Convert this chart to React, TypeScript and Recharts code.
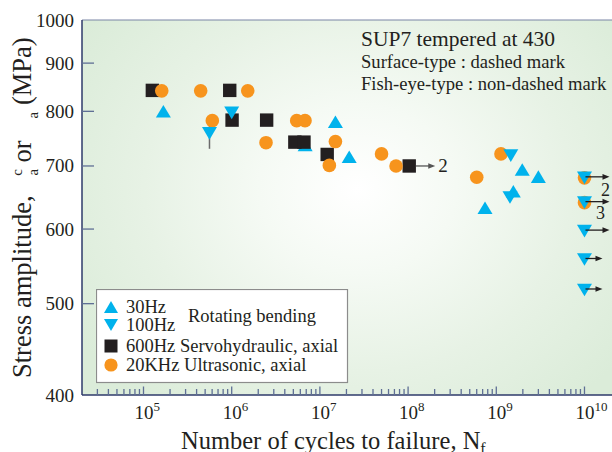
import React from 'react';
import { ScatterChart, Scatter, XAxis, YAxis, ReferenceLine, Legend, ErrorBar } from 'recharts';

// cycles to failure (N) vs stress amplitude (MPa)
const rotating30Hz = [
  { n: 1.68e5, s: 800 },
  { n: 6.8e6, s: 737 },
  { n: 1.5e7, s: 780 },
  { n: 2.15e7, s: 716 },
  { n: 7.45e8, s: 632 },
  { n: 1.56e9, s: 658 },
  { n: 1.97e9, s: 694 },
  { n: 3.0e9, s: 682 },
];

const ultrasonic20kHz = [
  { n: 1.61e5, s: 841 },
  { n: 4.45e5, s: 841 },
  { n: 1.52e6, s: 841 },
  { n: 6.03e5, s: 782 },
  { n: 2.45e6, s: 741 },
  { n: 5.46e6, s: 782 },
  { n: 6.78e6, s: 782 },
  { n: 1.28e7, s: 701 },
  { n: 1.5e7, s: 743 },
  { n: 5.0e7, s: 721 },
  { n: 7.3e7, s: 700 },
  { n: 6.0e8, s: 681 },
  { n: 1.13e9, s: 721 },
  { n: 1e10, s: 680 },
  { n: 1e10, s: 640 },
];

const servo600Hz = [
  { n: 1.26e5, s: 842 },
  { n: 9.5e5, s: 842 },
  { n: 1.01e6, s: 783 },
  { n: 2.49e6, s: 783 },
  { n: 5.2e6, s: 742 },
  { n: 6.6e6, s: 742 },
  { n: 1.21e7, s: 720 },
  { n: 1.03e8, s: 700, runout: '2' },
];

const rotating100Hz = [
  { n: 5.6e5, s: 758 },
  { n: 1.0e6, s: 797 },
  { n: 1.43e9, s: 648 },
  { n: 1.46e9, s: 718 },
  { n: 1e10, s: 680, runout: '2' },
  { n: 1e10, s: 640, runout: '3' },
  { n: 1e10, s: 597, runout: '' },
  { n: 1e10, s: 557, runout: '' },
  { n: 1e10, s: 517, runout: '' },
];

// scatter band on the 100Hz point at 5.6e5
const scatterBand = [{ n: 5.6e5, s: 758, err: [28, 23] }];

const xDecades = [1e5, 1e6, 1e7, 1e8, 1e9, 1e10];
const xTicks = [3e4, 4e4, 5e4, 6e4, 7e4, 8e4, 9e4,
  ...xDecades.flatMap((d) => [d, 2 * d, 3 * d, 4 * d, 5 * d, 6 * d, 7 * d, 8 * d, 9 * d])].filter((v) => v < 1.9e10);
const yTicks = [400, 500, 600, 700, 800, 900, 1000];

const FONT = 'Liberation Serif';
const CYAN = '#00b2ec';
const ORANGE = '#f7941d';
const BLACK = '#231f20';
const AXIS = '#2e3a6a';
const TICK = '#5f6f95';

const XTick = (props: any) => {
  const { x, y, payload } = props;
  const lg = Math.log10(payload.value);
  const exp = Math.round(lg);
  const major = Math.abs(lg - exp) < 1e-6;
  return (
    <g>
      <line x1={x} x2={x} y1={y} y2={y - (major ? 8.5 : 6)} stroke={TICK} strokeWidth={1.3} />
      {major && (
        <text x={x - 9} y={y + 24} fontFamily={FONT} fontSize={19} fill={BLACK}>
          10<tspan dy={-8} fontSize={13}>{exp}</tspan>
        </text>
      )}
    </g>
  );
};

const YTick = (props: any) => {
  const { x, y, payload } = props;
  const v = payload.value;
  return (
    <g>
      {v > 400 && v < 1000 && <line x1={x} x2={x + 12} y1={y} y2={y} stroke={TICK} strokeWidth={1.3} />}
      <text x={x - 8} y={y + 6.5} textAnchor="end" fontFamily={FONT} fontSize={19} fill={BLACK}>{v}</text>
    </g>
  );
};

const Arrow = ({ x1, x2, y, color }: any) => (
  <g>
    <line x1={x1} x2={x2 - 4} y1={y} y2={y} stroke={color} strokeWidth={1.3} />
    <path d={`M${x2},${y} L${x2 - 7},${y - 2.8} L${x2 - 7},${y + 2.8} Z`} fill={color} />
  </g>
);

const triUpPath = (cx: number, cy: number, w = 7.5, h = 6.3) =>
  `M${cx},${cy - h} L${cx + w},${cy + h} L${cx - w},${cy + h} Z`;
const triDownPath = (cx: number, cy: number, w = 7.5, h = 6.3) =>
  `M${cx - w},${cy - h} L${cx + w},${cy - h} L${cx},${cy + h} Z`;

const TriUpShape = (props: any) => <path d={triUpPath(props.cx, props.cy)} fill={CYAN} />;

const TriDownShape = (props: any) => {
  const { cx, cy, payload } = props;
  const hasArrow = payload && payload.runout !== undefined;
  const long = payload && payload.s > 580;
  return (
    <g>
      <path d={triDownPath(cx, cy)} fill={CYAN} />
      {hasArrow && <Arrow x1={cx + 1} x2={cx + (long ? 25 : 18)} y={cy - 1} color={BLACK} />}
      {payload && payload.runout === '2' && (
        <text x={cx + 21} y={cy + 18} textAnchor="middle" fontFamily={FONT} fontSize={18} fill={BLACK}>2</text>
      )}
      {payload && payload.runout === '3' && (
        <text x={cx + 16} y={cy + 16} textAnchor="middle" fontFamily={FONT} fontSize={18} fill={BLACK}>3</text>
      )}
    </g>
  );
};

const SquareShape = (props: any) => {
  const { cx, cy, payload } = props;
  return (
    <g>
      <rect x={cx - 6.7} y={cy - 6.7} width={13.4} height={13.4} fill={BLACK} />
      {payload && payload.runout && (
        <g>
          <Arrow x1={cx + 6.7} x2={cx + 26} y={cy} color="#555" />
          <text x={cx + 29} y={cy + 6} fontFamily={FONT} fontSize={19} fill={BLACK}>{payload.runout}</text>
        </g>
      )}
    </g>
  );
};

const CircleShape = (props: any) => <circle cx={props.cx} cy={props.cy} r={6.8} fill={ORANGE} />;
const NoShape = () => <g />;

const LegendBox = () => (
  <svg width={253} height={95} style={{ display: 'block' }}>
    <rect x={0.5} y={0.5} width={251} height={93} fill="#fff" stroke="#8c8c8c" strokeWidth={1.2} />
    <path d={triUpPath(15, 18, 7, 6)} fill={CYAN} />
    <path d={triDownPath(15, 36, 7, 6)} fill={CYAN} />
    <rect x={8.5} y={50.5} width={13} height={13} fill={BLACK} />
    <circle cx={15} cy={76} r={6.6} fill={ORANGE} />
    <g fontFamily={FONT} fontSize={18.5} fill={BLACK}>
      <text x={30} y={24}>30Hz</text>
      <text x={30} y={42}>100Hz</text>
      <text x={92} y={33}>Rotating bending</text>
      <text x={30} y={63}>600Hz Servohydraulic, axial</text>
      <text x={30} y={82}>20KHz Ultrasonic, axial</text>
    </g>
  </svg>
);

export default function App() {
  return (
    <div style={{ position: 'absolute', left: 0, top: 0, width: 612, height: 452, background: '#fff', overflow: 'hidden' }}>
      <div
        style={{
          position: 'absolute', left: 82, top: 20, width: 530, height: 375,
          background: 'radial-gradient(ellipse 62% 75% at 52% 45%, #ffffff 0%, #f5faf4 30%, #e7f2e5 65%, #dbecd9 100%)',
        }}
      />
      <div style={{ position: 'absolute', left: 0, top: 0 }}>
        <ScatterChart width={612} height={452} margin={{ top: 20, right: 0, bottom: 0, left: 0 }}>
          <XAxis
            type="number"
            dataKey="n"
            scale="log"
            domain={[Math.pow(10, 4.3027), Math.pow(10, 10.312)]}
            allowDataOverflow
            ticks={xTicks}
            interval={0}
            tick={<XTick />}
            tickLine={false}
            tickSize={0}
            tickMargin={0}
            height={57}
            axisLine={{ stroke: AXIS, strokeWidth: 1.5 }}
          />
          <YAxis
            type="number"
            dataKey="s"
            scale="log"
            domain={[400, 1000]}
            allowDataOverflow
            ticks={yTicks}
            interval={0}
            tick={<YTick />}
            tickLine={false}
            tickSize={0}
            tickMargin={0}
            width={82}
            axisLine={{ stroke: AXIS, strokeWidth: 1.5 }}
          />
          <ReferenceLine y={1000} stroke="#7a86a6" strokeWidth={1.2} />
          <Legend
            layout="vertical"
            align="center"
            verticalAlign="middle"
            content={() => <LegendBox />}
            wrapperStyle={{ position: 'absolute', left: 96, top: 289, width: 253, height: 95 }}
          />
          <Scatter name="30Hz" data={rotating30Hz} shape={<TriUpShape />} isAnimationActive={false} />
          <Scatter name="600Hz Servohydraulic, axial" data={servo600Hz} shape={<SquareShape />} isAnimationActive={false} />
          <Scatter name="20KHz Ultrasonic, axial" data={ultrasonic20kHz} shape={<CircleShape />} isAnimationActive={false} />
          <Scatter name="100Hz" data={rotating100Hz} shape={<TriDownShape />} isAnimationActive={false} />
          <Scatter name="band" data={scatterBand} shape={<NoShape />} legendType="none" isAnimationActive={false}>
            <ErrorBar dataKey="err" direction="y" width={0} stroke="#6b6b6b" strokeWidth={1.5} />
          </Scatter>
          <g fontFamily={FONT} fill={BLACK}>
            <text x={361} y={46} fontSize={21.5}>SUP7 tempered at 430</text>
            <text x={361} y={68} fontSize={18.6}>Surface-type : dashed mark</text>
            <text x={361} y={90} fontSize={18.6}>Fish-eye-type : non-dashed mark</text>
            <text x={181} y={449} fontSize={24.5}>
              Number of cycles to failure, N<tspan dy={5} fontSize={16}>f</tspan>
            </text>
            <text transform="rotate(-90)" x={-378} y={31} fontSize={26.5}>
              Stress amplitude,
              <tspan dx={20} dy={7} fontSize={15}>a</tspan>
              <tspan dx={-7} dy={-16} fontSize={15}>c</tspan>
              <tspan dy={9}> or</tspan>
              <tspan dx={22} dy={7} fontSize={15}>a</tspan>
              <tspan dy={-7}> (MPa)</tspan>
            </text>
          </g>
        </ScatterChart>
      </div>
    </div>
  );
}
